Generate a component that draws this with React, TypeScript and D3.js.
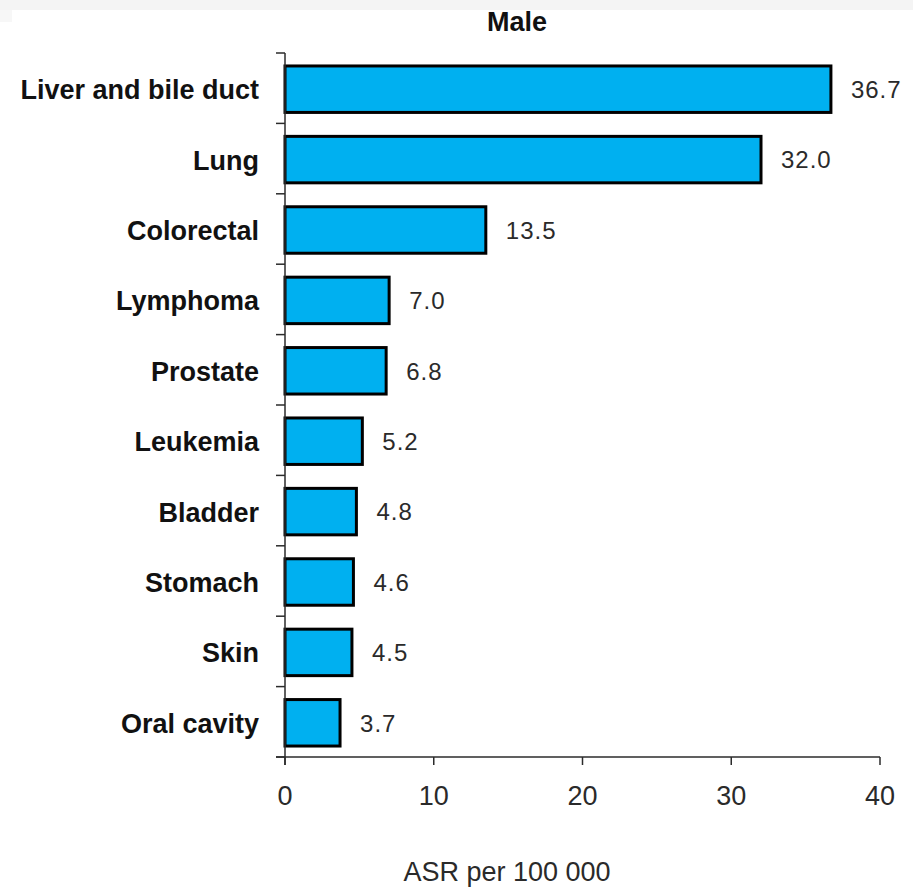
import * as d3 from 'd3';

// Data
const categories = [
  'Liver and bile duct',
  'Lung',
  'Colorectal',
  'Lymphoma',
  'Prostate',
  'Leukemia',
  'Bladder',
  'Stomach',
  'Skin',
  'Oral cavity',
];
const values = [36.7, 32.0, 13.5, 7.0, 6.8, 5.2, 4.8, 4.6, 4.5, 3.7];
const xTicks = [0, 10, 20, 30, 40];

const W = 913;
const H = 890;
const FONT = 'Liberation Sans, Arial, sans-serif';
const BAR_FILL = '#00b0f0';
const AXIS = '#2b2b2b';

export default function App() {
  const x = d3.scaleLinear().domain([0, 40]).range([285, 880]);
  const y = d3.scaleBand<string>().domain(categories).range([53, 757]);
  const bw = y.bandwidth();
  const barH = bw * 0.66;
  const axisY = y.range()[1];
  const axisX = x(0);

  const rows = categories.map((c, i) => ({ c, v: values[i] }));
  const bounds = categories.map(c => y(c) as number).concat([axisY]);

  return (
    <svg width={W} height={H} style={{ position: 'absolute', left: 0, top: 0, background: '#fff' }}>
      <rect x={0} y={0} width={W} height={10} fill="#f4f4f4" />
      <rect x={0} y={10} width={12} height={12} fill="#f7f7f7" />

      {/* title */}
      <text x={517} y={31} textAnchor="middle" fontFamily={FONT} fontWeight="bold"
        fontSize={27} fill="#111">Male</text>

      {/* bars */}
      {rows.map(d => {
        const top = (y(d.c) as number) + (bw - barH) / 2 + 1;
        return (
          <g key={d.c}>
            <rect x={axisX} y={top} width={x(d.v) - axisX} height={barH}
              fill={BAR_FILL} stroke="#000" strokeWidth={3} />
            <text x={x(d.v) + 20} y={top + barH / 2} dy="0.37em" fontFamily={FONT}
              fontSize={24} letterSpacing={1} fill="#2a2a2a">{d.v.toFixed(1)}</text>
            <text x={259} y={top + barH / 2} dy="0.37em" textAnchor="end" fontFamily={FONT}
              fontWeight="bold" fontSize={27} fill="#111">{d.c}</text>
          </g>
        );
      })}

      {/* y axis */}
      <line x1={axisX} x2={axisX} y1={53} y2={axisY + 8} stroke={AXIS} strokeWidth={1.5} />
      {bounds.map((b, i) => (
        <line key={i} x1={axisX - 9} x2={axisX} y1={b} y2={b} stroke={AXIS} strokeWidth={1.5} />
      ))}

      {/* x axis */}
      <line x1={axisX - 9} x2={x(40)} y1={axisY} y2={axisY} stroke={AXIS} strokeWidth={1.5} />
      {xTicks.map(t => (
        <g key={t}>
          <line x1={x(t)} x2={x(t)} y1={axisY} y2={axisY + 8} stroke={AXIS} strokeWidth={1.5} />
          <text x={x(t)} y={805} textAnchor="middle" fontFamily={FONT} fontSize={27}
            fill="#2a2a2a">{t}</text>
        </g>
      ))}
      <text x={507} y={881} textAnchor="middle" fontFamily={FONT} fontSize={27}
        fill="#2a2a2a">ASR per 100 000</text>
    </svg>
  );
}
